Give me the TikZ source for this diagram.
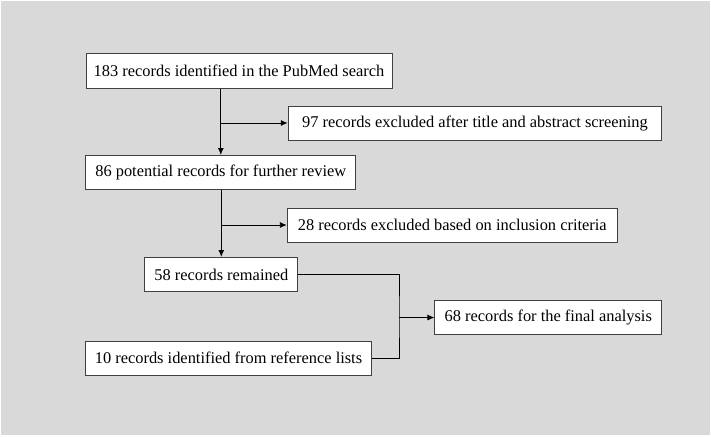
\documentclass[tikz,border=0pt]{standalone}
\usepackage{fontspec}
\setmainfont{Liberation Serif}
\usetikzlibrary{arrows.meta}
\definecolor{bggray}{HTML}{D9D9D9}
\definecolor{boxline}{HTML}{404040}
\tikzset{
  box/.style={draw=boxline, line width=1pt, fill=white, minimum height=34pt, inner sep=0pt, font=\fontsize{16.4}{19}\selectfont},
  conn/.style={draw=black, line width=0.9pt},
  arr/.style={conn, -{Latex[length=7pt,width=6pt]}}
}
\begin{document}
\begin{tikzpicture}[x=1pt,y=-1pt]
\useasboundingbox (0,0) rectangle (711,436);
\fill[white] (0,0) rectangle (711,436);
\fill[bggray] (1,1) rectangle (709.5,434.5);
\node[box, minimum width=306pt] (b1) at (239,71) {183 records identified in the PubMed search};
\node[box, minimum width=270pt] (b2) at (220.8,172.5) {86 potential records for further review};
\node[box, minimum width=373.5pt] (b97) at (475,123) {97 records excluded after title and abstract screening};
\node[box, minimum width=330pt] (b28) at (452.3,225) {28 records excluded based on inclusion criteria};
\node[box, minimum width=152.7pt] (b58) at (221.3,274.5) {58 records remained};
\node[box, minimum width=285.6pt] (b10) at (228.5,358) {10 records identified from reference lists};
\node[box, minimum width=226.7pt] (b68) at (548.3,317.5) {68 records for the final analysis};
\coordinate (j) at (399,317.5);
\draw[arr] (b2.north |- b1.south) -- (b2.north);
\draw[arr] (b2.north |- b97.west) -- (b97.west);
\draw[arr] (b2.south) -- (b2.south -| b58.north) -- (b58.north);
\draw[arr] (b2.south |- b28.west) -- (b28.west);
\draw[conn] (b58.east) -| (j) |- (b10.east);
\draw[arr] (j) -- (b68.west);
\end{tikzpicture}
\end{document}
